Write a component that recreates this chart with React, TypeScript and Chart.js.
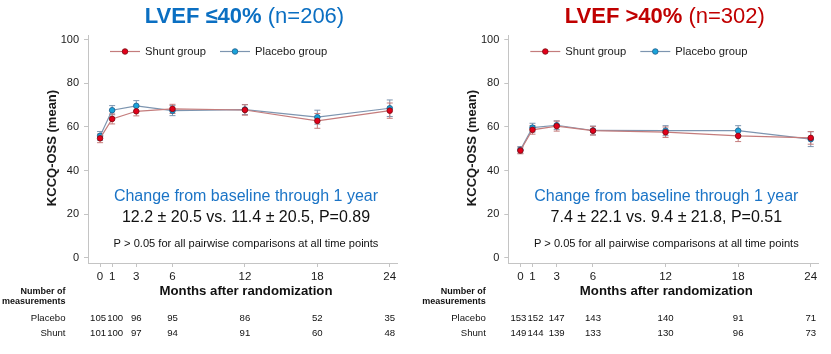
import React, { useEffect, useRef } from "react";
import { Chart, registerables } from "chart.js";
Chart.register(...registerables);

// ---------- data ----------
const months = [0, 1, 3, 6, 12, 18, 24];
const xTickLabels = ["0", "1", "3", "6", "12", "18", "24"];
const yTicks = [0, 20, 40, 60, 80, 100];

// LVEF <=40%
const lowShunt = [54.8, 63.7, 67.2, 68.3, 67.8, 62.8, 67.5];
const lowShuntErr = [2.0, 2.3, 2.1, 2.1, 2.4, 3.4, 3.5];
const lowPlacebo = [55.9, 67.7, 69.7, 67.5, 68.0, 64.5, 68.6];
const lowPlaceboErr = [2.0, 2.1, 2.4, 2.3, 2.3, 3.2, 3.8];
const lowPlaceboN = [105, 100, 96, 95, 86, 52, 35];
const lowShuntN = [101, 100, 97, 94, 91, 60, 48];

// LVEF >40%
const highShunt = [49.2, 58.7, 60.4, 58.3, 57.6, 55.9, 55.0];
const highShuntErr = [1.5, 2.0, 2.3, 2.0, 2.4, 2.6, 2.9];
const highPlacebo = [49.5, 59.7, 60.8, 58.4, 58.3, 58.3, 54.4];
const highPlaceboErr = [1.5, 2.0, 2.0, 2.0, 2.3, 2.3, 3.4];
const highPlaceboN = [153, 152, 147, 143, 140, 91, 71];
const highShuntN = [149, 144, 139, 133, 130, 96, 73];

const FONT = '"Liberation Sans", Arial, Helvetica, sans-serif';

const SHUNT_FILL = "#e2001a";
const SHUNT_EDGE = "#7a0a10";
const SHUNT_LINE = "#c47c7c";
const PLAC_FILL = "#1aa3d9";
const PLAC_EDGE = "#1d5a8a";
const PLAC_LINE = "#7d95b0";
const AXIS = "#c4c4c4";
const TXT = "#1a1a1a";

type PanelProps = {
  left: number;
  width: number;
  yAxisW: number;
  padRight: number;
  titleBold: string;
  titleRest: string;
  titleColor: string;
  change: string;
  stats: string;
  shunt: number[];
  shuntErr: number[];
  placebo: number[];
  placeboErr: number[];
  shuntN: number[];
  placeboN: number[];
};

function Panel(p: PanelProps) {
  const ref = useRef<HTMLCanvasElement | null>(null);
  useEffect(() => {
    const canvas = ref.current!;
    const nOffsets = [-2, 3, 0, 0, 0, 0, 0];

    const plugin = {
      id: "extras",
      beforeDatasetsDraw(chart: any) {
        const ctx = chart.ctx;
        const xs = chart.scales.x;
        const ys = chart.scales.y;
        const series = [
          { v: p.placebo, e: p.placeboErr, c: PLAC_LINE },
          { v: p.shunt, e: p.shuntErr, c: SHUNT_LINE },
        ];
        ctx.save();
        ctx.lineWidth = 1;
        for (const s of series) {
          ctx.strokeStyle = s.c;
          for (let i = 0; i < months.length; i++) {
            const x = xs.getPixelForValue(months[i]);
            const y1 = ys.getPixelForValue(s.v[i] + s.e[i]);
            const y2 = ys.getPixelForValue(s.v[i] - s.e[i]);
            ctx.beginPath();
            ctx.moveTo(x, y1);
            ctx.lineTo(x, y2);
            ctx.moveTo(x - 3, y1);
            ctx.lineTo(x + 3, y1);
            ctx.moveTo(x - 3, y2);
            ctx.lineTo(x + 3, y2);
            ctx.stroke();
          }
        }
        ctx.restore();
      },
      afterDraw(chart: any) {
        const ctx = chart.ctx;
        const ca = chart.chartArea;
        const L = ca.left;
        const xs = chart.scales.x;
        ctx.save();
        ctx.textBaseline = "alphabetic";

        // title
        ctx.font = `bold 22px ${FONT}`;
        const wb = ctx.measureText(p.titleBold).width;
        ctx.font = `22px ${FONT}`;
        const wr = ctx.measureText(" " + p.titleRest).width;
        const tx = L + 156.5 - (wb + wr) / 2;
        ctx.fillStyle = p.titleColor;
        ctx.textAlign = "left";
        ctx.font = `bold 22px ${FONT}`;
        ctx.fillText(p.titleBold, tx, 22.5);
        ctx.font = `22px ${FONT}`;
        ctx.fillText(" " + p.titleRest, tx + wb, 22.5);

        // y-axis title
        ctx.save();
        ctx.translate(L - 36, 148);
        ctx.rotate(-Math.PI / 2);
        ctx.textAlign = "center";
        ctx.textBaseline = "middle";
        ctx.fillStyle = TXT;
        ctx.font = `bold 13px ${FONT}`;
        ctx.fillText("KCCQ-OSS (mean)", 0, 0);
        ctx.restore();

        // legend
        const legY = 51.5;
        const items = [
          { x: L + 22, label: "Shunt group", line: SHUNT_LINE, fill: SHUNT_FILL, edge: SHUNT_EDGE },
          { x: L + 132, label: "Placebo group", line: PLAC_LINE, fill: PLAC_FILL, edge: PLAC_EDGE },
        ];
        ctx.textBaseline = "middle";
        ctx.font = `11.2px ${FONT}`;
        for (const it of items) {
          ctx.strokeStyle = it.line;
          ctx.lineWidth = 1.2;
          ctx.beginPath();
          ctx.moveTo(it.x, legY);
          ctx.lineTo(it.x + 30, legY);
          ctx.stroke();
          ctx.beginPath();
          ctx.arc(it.x + 15, legY, 2.8, 0, Math.PI * 2);
          ctx.fillStyle = it.fill;
          ctx.fill();
          ctx.lineWidth = 0.8;
          ctx.strokeStyle = it.edge;
          ctx.stroke();
          ctx.fillStyle = TXT;
          ctx.textAlign = "left";
          ctx.fillText(it.label, it.x + 35, legY + 0.5);
        }

        // annotations
        const ax = L + 158;
        ctx.textAlign = "center";
        ctx.fillStyle = "#1b74c6";
        ctx.font = `16px ${FONT}`;
        ctx.fillText(p.change, ax, 197);
        ctx.fillStyle = "#111";
        ctx.font = `16px ${FONT}`;
        ctx.fillText(p.stats, ax, 217.5);
        ctx.font = `11.1px ${FONT}`;
        ctx.fillText("P > 0.05 for all pairwise comparisons at all time points", ax, 243.5);

        // x title
        ctx.font = `bold 13.2px ${FONT}`;
        ctx.fillText("Months after randomization", L + 158, 291);

        // table
        const lx = L - 22.5;
        ctx.textAlign = "right";
        ctx.font = `bold 9px ${FONT}`;
        ctx.fillText("Number of", lx, 292);
        ctx.fillText("measurements", lx, 302);
        ctx.font = `9.6px ${FONT}`;
        ctx.fillText("Placebo", lx, 318.5);
        ctx.fillText("Shunt", lx, 333);
        ctx.textAlign = "center";
        for (let i = 0; i < months.length; i++) {
          const x = xs.getPixelForValue(months[i]) + nOffsets[i];
          ctx.fillText(String(p.placeboN[i]), x, 318.5);
          ctx.fillText(String(p.shuntN[i]), x, 333);
        }
        ctx.restore();
      },
    };

    const chart = new Chart(canvas, {
      type: "scatter",
      data: {
        datasets: [
          {
            label: "Shunt group",
            data: months.map((m, i) => ({ x: m, y: p.shunt[i] })),
            showLine: true,
            borderColor: SHUNT_LINE,
            borderWidth: 1.2,
            pointRadius: 2.8,
            pointBackgroundColor: SHUNT_FILL,
            pointBorderColor: SHUNT_EDGE,
            pointBorderWidth: 0.8,
          },
          {
            label: "Placebo group",
            data: months.map((m, i) => ({ x: m, y: p.placebo[i] })),
            showLine: true,
            borderColor: PLAC_LINE,
            borderWidth: 1.2,
            pointRadius: 2.8,
            pointBackgroundColor: PLAC_FILL,
            pointBorderColor: PLAC_EDGE,
            pointBorderWidth: 0.8,
          },
        ],
      },
      options: {
        responsive: false,
        animation: false,
        layout: { padding: { left: 0, right: p.padRight, top: 35, bottom: 71 } },
        plugins: { legend: { display: false }, tooltip: { enabled: false } },
        scales: {
          x: {
            type: "linear",
            min: -1,
            max: 24.6,
            afterBuildTicks: (s: any) => {
              s.ticks = months.map((v) => ({ value: v }));
            },
            afterFit: (s: any) => {
              s.height = 20;
            },
            ticks: {
              autoSkip: false,
              maxRotation: 0,
              padding: 3,
              color: TXT,
              font: { family: FONT, size: 11.5 },
              callback: (_v: any, i: number) => xTickLabels[i],
            },
            grid: { drawOnChartArea: false, drawTicks: true, tickLength: 4, color: AXIS },
            border: { display: true, color: AXIS },
          },
          y: {
            type: "linear",
            min: -2.4,
            max: 102.2,
            afterBuildTicks: (s: any) => {
              s.ticks = yTicks.map((v) => ({ value: v }));
            },
            afterFit: (s: any) => {
              s.width = p.yAxisW;
            },
            ticks: {
              padding: 5,
              color: TXT,
              font: { family: FONT, size: 11 },
            },
            grid: { drawOnChartArea: false, drawTicks: true, tickLength: 4, color: AXIS },
            border: { display: true, color: AXIS },
          },
        },
      },
      plugins: [plugin],
    } as any);
    return () => chart.destroy();
  }, []);
  return (
    <canvas
      ref={ref}
      width={p.width}
      height={354}
      style={{ position: "absolute", left: p.left, top: 0, width: p.width, height: 354 }}
    />
  );
}

export default function App() {
  useEffect(() => {
    document.body.style.margin = "0";
    document.body.style.background = "#ffffff";
  }, []);
  return (
    <div style={{ position: "relative", width: 831, height: 354, background: "#fff", overflow: "hidden" }}>
      <Panel
        left={0}
        width={415}
        yAxisW={88}
        padRight={18}
        titleBold="LVEF ≤40%"
        titleRest="(n=206)"
        titleColor="#0b6fc2"
        change="Change from baseline through 1 year"
        stats="12.2 ± 20.5 vs. 11.4 ± 20.5, P=0.89"
        shunt={lowShunt}
        shuntErr={lowShuntErr}
        placebo={lowPlacebo}
        placeboErr={lowPlaceboErr}
        shuntN={lowShuntN}
        placeboN={lowPlaceboN}
      />
      <Panel
        left={420}
        width={411}
        yAxisW={88.3}
        padRight={13}
        titleBold="LVEF >40%"
        titleRest="(n=302)"
        titleColor="#c00000"
        change="Change from baseline through 1 year"
        stats="7.4 ± 22.1 vs. 9.4 ± 21.8, P=0.51"
        shunt={highShunt}
        shuntErr={highShuntErr}
        placebo={highPlacebo}
        placeboErr={highPlaceboErr}
        shuntN={highShuntN}
        placeboN={highPlaceboN}
      />
    </div>
  );
}
